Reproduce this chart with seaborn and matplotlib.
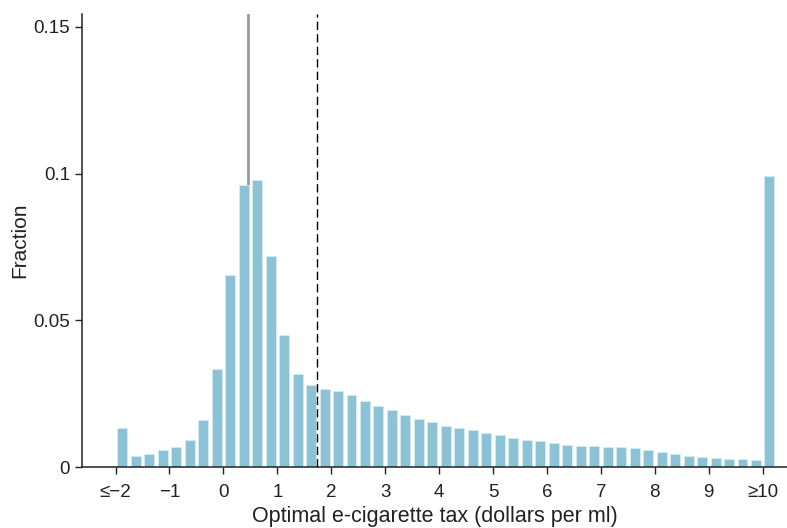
import numpy as np
import pandas as pd
import matplotlib
matplotlib.use("Agg")
import matplotlib.pyplot as plt
import seaborn as sns

# bin centres (0.25-wide bins from -2 to 10.25; ends are open-ended bins)
bin_centers = [-1.875 + 0.25 * i for i in range(49)]
fractions = [
    0.0134, 0.0036, 0.0044, 0.0057, 0.0068, 0.0091, 0.0160, 0.0333,
    0.0656, 0.0961, 0.0979, 0.0718, 0.0449, 0.0317, 0.0278, 0.0265,
    0.0258, 0.0244, 0.0225, 0.0207, 0.0193, 0.0177, 0.0164, 0.0155,
    0.0141, 0.0132, 0.0126, 0.0117, 0.0108, 0.0100, 0.0093, 0.0088,
    0.0081, 0.0076, 0.0073, 0.0071, 0.0069, 0.0068, 0.0065, 0.0059,
    0.0052, 0.0044, 0.0037, 0.0033, 0.0030, 0.0029, 0.0026, 0.0024,
    0.0991,
]
xtick_values = list(range(-2, 11))
xtick_labels = ["\u2264\u22122", "\u22121", "0", "1", "2", "3", "4", "5",
                "6", "7", "8", "9", "\u226510"]
ytick_values = [0, 0.05, 0.1, 0.15]
ytick_labels = ["0", "0.05", "0.1", "0.15"]
solid_line_x = 0.45
dashed_line_x = 1.73

df = pd.DataFrame({"tax": bin_centers, "fraction": fractions})

sns.set_style("ticks")
plt.rcParams["font.family"] = ["Liberation Sans", "DejaVu Sans"]

fig = plt.figure(figsize=(7.87, 5.28), dpi=100)
ax = fig.add_axes([0.104, 0.1155, 0.896, 0.858])

ax.axvline(solid_line_x, color="#9a9a9a", lw=2.0, zorder=1)
sns.barplot(data=df, x="tax", y="fraction", native_scale=True, width=0.74,
            color="#8BC2D6", saturation=1, edgecolor="#d6ebf3", linewidth=0.6,
            ax=ax, zorder=2)
ax.axvline(dashed_line_x, color="black", lw=1.0, ls=(0, (6, 3)), zorder=3)

ax.set_xlim(-2.625, 10.45)
ax.set_ylim(0, 0.1544)
ax.set_xticks(xtick_values)
ax.set_xticklabels(xtick_labels, fontsize=13.5)
ax.set_yticks(ytick_values)
ax.set_yticklabels(ytick_labels, fontsize=13.5)
ax.set_xlabel("Optimal e-cigarette tax (dollars per ml)", fontsize=15.5,
              color="#222222", labelpad=3)
ax.set_ylabel("Fraction", fontsize=15, color="#222222", labelpad=3)
ax.tick_params(axis="both", direction="out", length=5, width=1, colors="#222222")
ax.tick_params(axis="x", pad=7.5)
for s in ["top", "right"]:
    ax.spines[s].set_visible(False)
for s in ["left", "bottom"]:
    ax.spines[s].set_linewidth(1.1)
    ax.spines[s].set_color("#222222")

fig.savefig("out.png", dpi=100)
